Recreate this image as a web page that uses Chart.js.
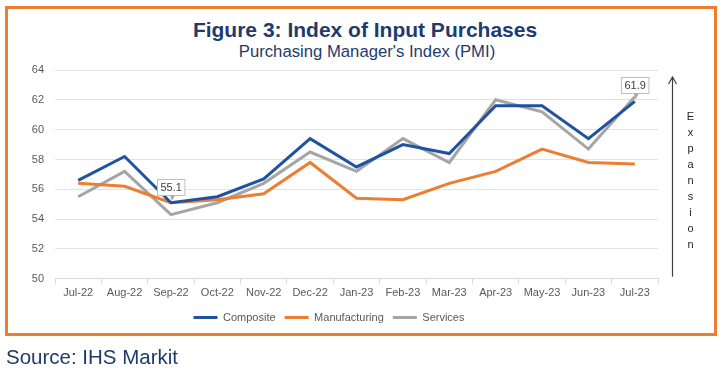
<!DOCTYPE html>
<html>
<head>
<meta charset="utf-8">
<script src="https://cdn.jsdelivr.net/npm/chart.js@4"></script>
<style>
  body { margin: 0; background: #fff; }
  #wrap { position: relative; width: 722px; height: 373px; overflow: hidden; }
  #frame {
    position: absolute; left: 5px; top: 6px; width: 712px; height: 330px;
    box-sizing: border-box; border: 3px solid #ED7D31;
  }
  #title, #subtitle, #source {
    position: absolute; font-family: "Liberation Sans", Arial, sans-serif; color: #1f3b6c;
    white-space: nowrap;
  }
  #title { left: 0; width: 730px; text-align: center; top: 18px; font-size: 21px; font-weight: bold; }
  #subtitle { left: 0; width: 734px; text-align: center; top: 42px; font-size: 16.7px; }
  #source { left: 6px; top: 345px; font-size: 20.5px; }
  canvas { position: absolute; left: 0; top: 0; }
</style>
</head>
<body>
<div id="wrap">
  <div id="frame"></div>
  <div id="title">Figure 3: Index of Input Purchases</div>
  <div id="subtitle">Purchasing Manager's Index (PMI)</div>
  <canvas id="pmi-chart" width="722" height="373"></canvas>
  <div id="source">Source: IHS Markit</div>
</div>
<script>
const months = ["Jul-22", "Aug-22", "Sep-22", "Oct-22", "Nov-22", "Dec-22", "Jan-23",
                "Feb-23", "Mar-23", "Apr-23", "May-23", "Jun-23", "Jul-23"];
const composite = [56.6, 58.2, 55.1, 55.5, 56.7, 59.4, 57.5, 59.0, 58.4, 61.6, 61.6, 59.4, 61.9];
const manufacturing = [56.4, 56.2, 55.1, 55.3, 55.7, 57.8, 55.4, 55.3, 56.4, 57.2, 58.7, 57.8, 57.7];
const services = [55.5, 57.2, 54.3, 55.1, 56.4, 58.5, 57.2, 59.4, 57.8, 62.0, 61.2, 58.7, 62.2];
const yTicks = [50, 52, 54, 56, 58, 60, 62, 64];
// callouts on the composite line (index into months)
const calloutPoints = [2, 12];
const arrowWord = "Expansion";

const tickFont = { family: "'Liberation Sans', Arial, sans-serif", size: 11 };

// boxed value labels with a small pointer
const calloutPlugin = {
    id: 'callouts',
    afterDatasetsDraw(chart) {
        const ctx = chart.ctx;
        const meta = chart.getDatasetMeta(0);
        ctx.save();
        ctx.font = "11px 'Liberation Sans', Arial, sans-serif";
        calloutPoints.forEach(i => {
            const pt = meta.data[i];
            const label = composite[i].toFixed(1);
            const w = ctx.measureText(label).width + 6;
            const h = 16;
            const left = Math.round(pt.x - w / 2) + 0.5;
            const top = Math.round(pt.y - 8 - h) + 0.5;
            ctx.fillStyle = '#fff';
            ctx.strokeStyle = '#bfbfbf';
            ctx.lineWidth = 1;
            ctx.fillRect(left, top, w, h);
            ctx.strokeRect(left, top, w, h);
            // pointer
            ctx.fillStyle = '#a6a6a6';
            ctx.beginPath();
            ctx.moveTo(pt.x - 1, top + h);
            ctx.lineTo(pt.x + 4, top + h);
            ctx.lineTo(pt.x + 1, pt.y - 2);
            ctx.closePath();
            ctx.fill();
            ctx.fillStyle = '#404040';
            ctx.textAlign = 'center';
            ctx.textBaseline = 'middle';
            ctx.fillText(label, left + w / 2, top + h / 2 + 0.5);
        });
        ctx.restore();
    }
};

// "Expansion" arrow on the right of the plot
const arrowPlugin = {
    id: 'expansionArrow',
    afterDraw(chart) {
        const ctx = chart.ctx;
        const area = chart.chartArea;
        const x = area.right + 14.5;
        ctx.save();
        ctx.strokeStyle = '#404040';
        ctx.lineWidth = 1.2;
        ctx.beginPath();
        ctx.moveTo(x, area.bottom - 2);
        ctx.lineTo(x, area.top + 7);
        ctx.moveTo(x - 4, area.top + 14);
        ctx.lineTo(x, area.top + 7);
        ctx.lineTo(x + 4, area.top + 14);
        ctx.stroke();
        ctx.fillStyle = '#262626';
        ctx.font = "11px 'Liberation Sans', Arial, sans-serif";
        ctx.textAlign = 'center';
        ctx.textBaseline = 'middle';
        arrowWord.split('').forEach((ch, k) => {
            ctx.fillText(ch, x + 18, 117 + k * 16);
        });
        ctx.restore();
    }
};

function makeSet(label, data, color) {
    return {
        label: label,
        data: data,
        borderColor: color,
        backgroundColor: color,
        borderWidth: 3,
        pointRadius: 0,
        tension: 0,
    };
}

function drawChart() {
    const ctx = document.getElementById('pmi-chart').getContext('2d');
    new Chart(ctx, {
        type: 'line',
        data: {
            labels: months,
            datasets: [
                makeSet('Composite', composite, '#1f53a0'),
                makeSet('Manufacturing', manufacturing, '#ed7d31'),
                makeSet('Services', services, '#a5a5a5'),
            ]
        },
        options: {
            responsive: false,
            animation: false,
            layout: { padding: { top: 70, right: 64, left: 0, bottom: 40 } },
            plugins: {
                title: { display: false },
                tooltip: { enabled: false },
                legend: {
                    position: 'bottom',
                    labels: {
                        boxWidth: 24,
                        boxHeight: 3,
                        padding: 9,
                        color: '#595959',
                        font: tickFont,
                        generateLabels(chart) {
                            return Chart.defaults.plugins.legend.labels.generateLabels(chart)
                                .map(item => Object.assign(item, { lineWidth: 0 }));
                        }
                    }
                }
            },
            scales: {
                x: {
                    offset: true,
                    grid: {
                        offset: true,
                        drawOnChartArea: false,
                        drawTicks: true,
                        tickLength: 5,
                        color: '#d9d9d9',
                    },
                    border: { color: '#d9d9d9' },
                    ticks: { color: '#595959', font: tickFont, padding: 3, maxRotation: 0, autoSkip: false },
                },
                y: {
                    min: yTicks[0],
                    max: yTicks[yTicks.length - 1],
                    afterBuildTicks(scale) {
                        scale.ticks = yTicks.map(v => ({ value: v }));
                    },
                    afterFit(scale) { scale.width = 55; },
                    grid: { color: '#e3e3e3', drawTicks: false },
                    border: { display: false },
                    ticks: { color: '#595959', font: tickFont, padding: 11 },
                }
            }
        },
        plugins: [calloutPlugin, arrowPlugin]
    });
}

window.addEventListener('load', drawChart);
</script>
</body>
</html>
